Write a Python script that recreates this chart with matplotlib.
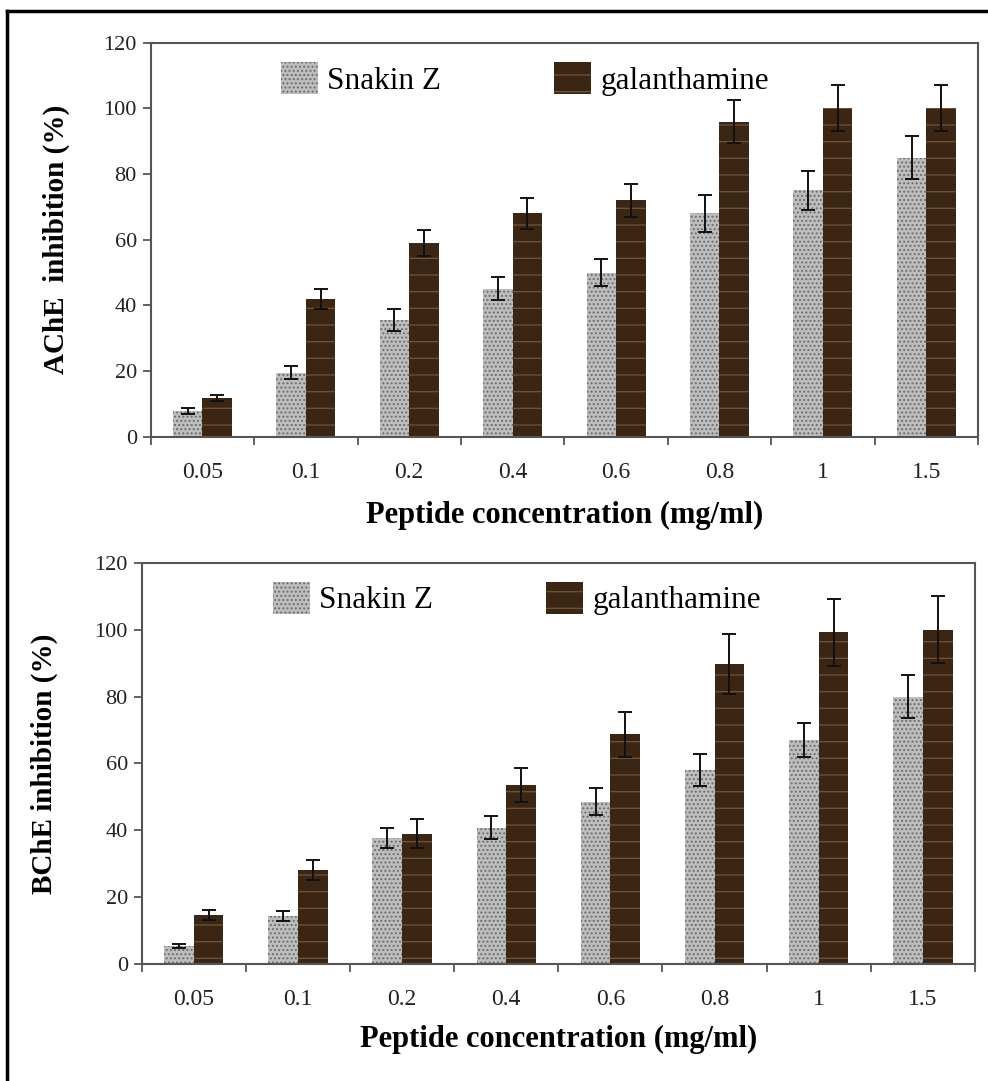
import matplotlib
matplotlib.use('Agg')
import matplotlib.pyplot as plt
from matplotlib.patches import Patch
from matplotlib.lines import Line2D
import numpy as np

# data
conc = ['0.05', '0.1', '0.2', '0.4', '0.6', '0.8', '1', '1.5']

ache_snakin = [7.8, 19.5, 35.5, 45, 50, 68, 75, 85]
ache_snakin_err = [1.0, 2.0, 3.3, 3.5, 4.0, 5.6, 6.0, 6.5]
ache_gal = [11.8, 42, 59, 68, 72, 96, 100, 100]
ache_gal_err = [0.8, 3.0, 4.0, 4.8, 5.0, 6.5, 7.0, 7.0]

bche_snakin = [5.6, 14.3, 37.8, 40.8, 48.6, 58, 67, 80]
bche_snakin_err = [0.6, 1.5, 3.0, 3.5, 4.0, 4.7, 5.0, 6.5]
bche_gal = [14.6, 28.3, 39, 53.6, 68.7, 89.7, 99.2, 100]
bche_gal_err = [1.5, 3.0, 4.4, 5.0, 6.8, 9.0, 10.0, 10.0]

plt.rcParams['font.family'] = 'Liberation Serif'
plt.rcParams['hatch.linewidth'] = 0.9

SNAKIN_FACE = '#bdbdbd'
SNAKIN_HATCH = '#6a6a6a'
GAL_FACE = '#3b2616'
GAL_HATCH = '#705436'
SPINE = '#555555'

fig = plt.figure(figsize=(9.88, 10.81), dpi=100)


def panel(rect, snakin, snakin_err, gal, gal_err, ylabel, ylab_x, xlab_y, leg_y):
    ax = fig.add_axes(rect)
    x = np.arange(len(conc))
    w = 0.285
    ax.bar(x - w / 2, snakin, w, color=SNAKIN_FACE, edgecolor=SNAKIN_HATCH,
           linewidth=0, hatch='....')
    ax.bar(x + w / 2, gal, w, color=GAL_FACE, edgecolor=GAL_HATCH,
           linewidth=0, hatch='-')
    ax.errorbar(x - w / 2, snakin, yerr=snakin_err, fmt='none', ecolor='#111111',
                elinewidth=1.4, capsize=5, capthick=1.4)
    ax.errorbar(x + w / 2, gal, yerr=gal_err, fmt='none', ecolor='#111111',
                elinewidth=1.4, capsize=5, capthick=1.4)

    ax.set_xlim(-0.5, len(conc) - 0.5)
    ax.set_ylim(0, 120)
    ax.set_yticks(range(0, 121, 20))

    # tick marks between groups, labels at the centres
    ax.set_xticks(np.arange(-0.5, len(conc), 1.0))
    ax.set_xticklabels([])
    ax.set_xticks(x, minor=True)
    ax.set_xticklabels(conc, minor=True)
    ax.tick_params(axis='x', which='major', direction='out', length=6,
                   width=1.3, color=SPINE)
    ax.tick_params(axis='x', which='minor', length=0, pad=18, labelsize=17,
                   labelcolor='#222222')
    ax.tick_params(axis='y', direction='out', length=6, width=1.3, color=SPINE,
                   pad=4, labelsize=16, labelcolor='#222222')

    for s in ax.spines.values():
        s.set_color(SPINE)
        s.set_linewidth(1.5)

    ax.set_ylabel(ylabel, fontsize=21, fontweight='bold')
    ax.yaxis.set_label_coords(ylab_x, 0.5)
    ax.set_xlabel('Peptide concentration (mg/ml)', fontsize=22, fontweight='bold')
    ax.xaxis.set_label_coords(0.5, xlab_y)

    handles = [Patch(facecolor=SNAKIN_FACE, edgecolor=SNAKIN_HATCH, linewidth=0,
                     hatch='....', label='Snakin Z'),
               Patch(facecolor=GAL_FACE, edgecolor=GAL_HATCH, linewidth=0,
                     hatch='-', label='galanthamine')]
    ax.legend(handles=handles, loc='upper left', bbox_to_anchor=(0.157, leg_y),
              ncol=2, frameon=False, fontsize=22.5, handlelength=1.2,
              handleheight=1.2, handletextpad=0.3, columnspacing=3.6,
              borderaxespad=0, borderpad=0)
    return ax


panel([0.1525, 0.5960, 0.8374, 0.3645], ache_snakin, ache_snakin_err,
      ache_gal, ache_gal_err, 'AChE  inhibition (%)', -0.098, -0.162, 0.95)
panel([0.1434, 0.1080, 0.8434, 0.3715], bche_snakin, bche_snakin_err,
      bche_gal, bche_gal_err, 'BChE inhibition (%)', -0.100, -0.150, 0.953)

# outer frame (left and top only are visible)
fig.add_artist(Line2D([7 / 988, 7 / 988], [0, 1 - 11 / 1081], color='black',
                      linewidth=2.5, transform=fig.transFigure))
fig.add_artist(Line2D([7 / 988, 1], [1 - 11 / 1081, 1 - 11 / 1081], color='black',
                      linewidth=2.5, transform=fig.transFigure))

fig.savefig('out.png', dpi=100)
